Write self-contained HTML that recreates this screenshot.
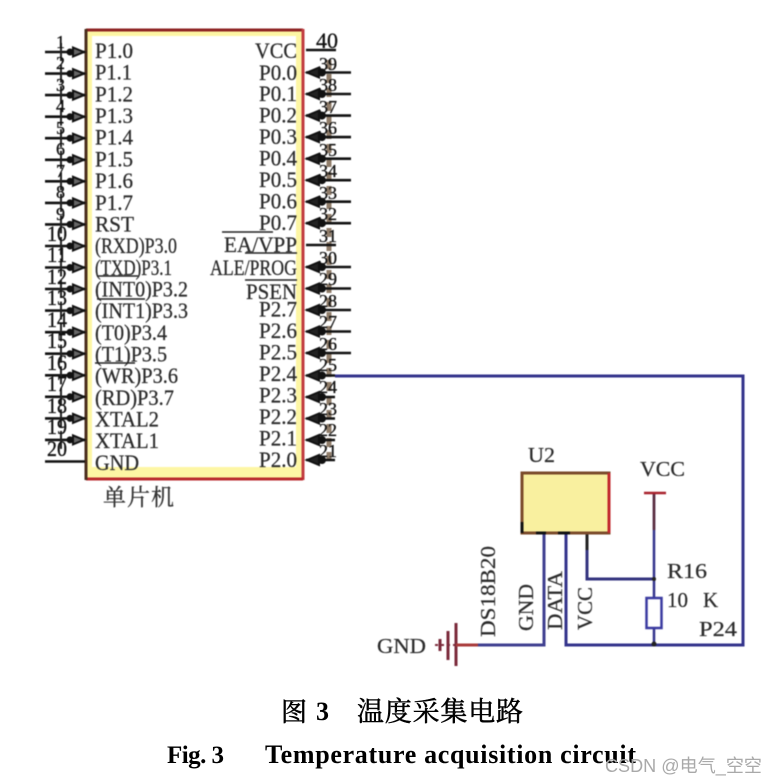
<!DOCTYPE html>
<html>
<head>
<meta charset="utf-8">
<style>
html,body{margin:0;padding:0;background:#fff;width:775px;height:784px;overflow:hidden}
svg{display:block}
.d{filter:blur(.5px)}
.l{font-family:"Liberation Serif",serif;font-size:22px;fill:#2a2a2a;stroke:#2a2a2a;stroke-width:.25px}
.n{font-family:"Liberation Serif",serif;font-size:18px;fill:#111;stroke:#111;stroke-width:.3px}
.c{font-family:"Liberation Serif",serif;font-size:21px;fill:#2a2a2a;stroke:#2a2a2a;stroke-width:.2px}
</style>
</head>
<body>
<svg width="775" height="784" viewBox="0 0 775 784" xmlns="http://www.w3.org/2000/svg">
<defs>
<g id="pl">
<path d="M45 0H85" stroke="#111" stroke-width="2.6" fill="none"/>
<path d="M84 0L73 -4.5V4.5Z" fill="#666" stroke="#111" stroke-width="2"/>
<circle cx="70" cy="0" r="3.5" fill="#111"/>
<path d="M61 -9V9" stroke="#222" stroke-width="2"/>
</g>
<g id="pr">
<path d="M306 0H351" stroke="#111" stroke-width="2.6" fill="none"/>
<path d="M307 0L319 -5V5Z" fill="#222" stroke="#111" stroke-width="2"/>
<circle cx="322" cy="0" r="4" fill="#111"/>
</g>
<g id="ps">
<path d="M306 0H335" stroke="#111" stroke-width="2.6" fill="none"/>
<path d="M307 0L319 -5V5Z" fill="#222" stroke="#111" stroke-width="2"/>
<circle cx="322" cy="0" r="4" fill="#111"/>
</g>
</defs>
<g class="d">
<!-- chip -->
<rect x="86" y="30" width="217" height="449" fill="#fdf6a4"/>
<rect x="92" y="36" width="204" height="431" fill="#fff"/>
<path d="M86 30H303" stroke="#8e2222" stroke-width="3" fill="none"/>
<path d="M303 29V480" stroke="#c23c40" stroke-width="3" fill="none"/>
<path d="M86 479H303" stroke="#b92a2c" stroke-width="3" fill="none"/>
<path d="M86 29V480" stroke="#4a2e1c" stroke-width="3" fill="none"/>

<!-- right brown number column -->
<path d="M329 60V465" stroke="#6b5238" stroke-width="5" stroke-dasharray="9 5" fill="none" opacity=".75"/>

<!-- left pins -->
<use href="#pl" y="52"/><use href="#pl" y="73.6"/><use href="#pl" y="95.1"/><use href="#pl" y="116.7"/>
<use href="#pl" y="138.2"/><use href="#pl" y="159.8"/><use href="#pl" y="181.3"/><use href="#pl" y="202.9"/>
<use href="#pl" y="224.4"/><use href="#pl" y="246"/><use href="#pl" y="267.5"/><use href="#pl" y="289"/>
<use href="#pl" y="310.6"/><use href="#pl" y="332.2"/><use href="#pl" y="353.7"/><use href="#pl" y="375.3"/>
<use href="#pl" y="396.8"/><use href="#pl" y="418.4"/><use href="#pl" y="439.9"/>
<path d="M45 461.5H85" stroke="#111" stroke-width="2.6"/>

<!-- left numbers -->
<g class="n">
<text x="56" y="48">1</text><text x="56" y="69">2</text><text x="56" y="91">3</text><text x="56" y="112">4</text>
<text x="56" y="134">5</text><text x="56" y="155">6</text><text x="56" y="177">7</text><text x="56" y="198">8</text>
<text x="56" y="220">9</text>
<g style="font-size:22px">
<text x="47" y="241" textLength="20" lengthAdjust="spacingAndGlyphs">10</text><text x="47" y="262" textLength="20" lengthAdjust="spacingAndGlyphs">11</text><text x="47" y="284" textLength="20" lengthAdjust="spacingAndGlyphs">12</text><text x="47" y="305" textLength="20" lengthAdjust="spacingAndGlyphs">13</text>
<text x="47" y="327" textLength="20" lengthAdjust="spacingAndGlyphs">14</text><text x="47" y="348" textLength="20" lengthAdjust="spacingAndGlyphs">15</text><text x="47" y="370" textLength="20" lengthAdjust="spacingAndGlyphs">16</text><text x="47" y="391" textLength="20" lengthAdjust="spacingAndGlyphs">17</text>
<text x="47" y="413" textLength="20" lengthAdjust="spacingAndGlyphs">18</text><text x="47" y="434" textLength="20" lengthAdjust="spacingAndGlyphs">19</text><text x="47" y="456" textLength="20" lengthAdjust="spacingAndGlyphs">20</text>
</g>
</g>

<!-- left labels -->
<g class="l">
<text x="95" y="58" textLength="38" lengthAdjust="spacingAndGlyphs">P1.0</text>
<text x="95" y="79.7" textLength="37" lengthAdjust="spacingAndGlyphs">P1.1</text>
<text x="95" y="101.4" textLength="38" lengthAdjust="spacingAndGlyphs">P1.2</text>
<text x="95" y="123" textLength="38" lengthAdjust="spacingAndGlyphs">P1.3</text>
<text x="95" y="144.7" textLength="38" lengthAdjust="spacingAndGlyphs">P1.4</text>
<text x="95" y="166.4" textLength="38" lengthAdjust="spacingAndGlyphs">P1.5</text>
<text x="95" y="188" textLength="38" lengthAdjust="spacingAndGlyphs">P1.6</text>
<text x="95" y="209.8" textLength="38" lengthAdjust="spacingAndGlyphs">P1.7</text>
<text x="95" y="231.4" textLength="39" lengthAdjust="spacingAndGlyphs">RST</text>
<text x="95" y="253" textLength="82" lengthAdjust="spacingAndGlyphs">(RXD)P3.0</text>
<text x="95" y="274.8" textLength="77" lengthAdjust="spacingAndGlyphs">(TXD)P3.1</text>
<text x="95" y="296.5" textLength="93" lengthAdjust="spacingAndGlyphs">(INT0)P3.2</text>
<text x="95" y="318" textLength="93" lengthAdjust="spacingAndGlyphs">(INT1)P3.3</text>
<text x="95" y="340" textLength="72" lengthAdjust="spacingAndGlyphs">(T0)P3.4</text>
<text x="95" y="361.5" textLength="72" lengthAdjust="spacingAndGlyphs">(T1)P3.5</text>
<text x="95" y="383" textLength="83" lengthAdjust="spacingAndGlyphs">(WR)P3.6</text>
<text x="95" y="405" textLength="79" lengthAdjust="spacingAndGlyphs">(RD)P3.7</text>
<text x="95" y="426.6" textLength="64" lengthAdjust="spacingAndGlyphs">XTAL2</text>
<text x="95" y="448" textLength="64" lengthAdjust="spacingAndGlyphs">XTAL1</text>
<text x="95" y="470" textLength="44" lengthAdjust="spacingAndGlyphs">GND</text>
</g>
<path d="M97 276H138M97 299H145M95 363H135" stroke="#222" stroke-width="1.6" fill="none"/>

<!-- right pins -->
<path d="M306 50H336" stroke="#111" stroke-width="2.6"/>
<use href="#pr" y="72.5"/><use href="#pr" y="94"/><use href="#pr" y="115.6"/><use href="#pr" y="137.1"/>
<use href="#pr" y="158.7"/><use href="#pr" y="180.2"/><use href="#pr" y="201.7"/><use href="#pr" y="223.2"/>
<path d="M306 245H336" stroke="#111" stroke-width="2.6"/>
<use href="#pr" y="267"/><use href="#pr" y="288.5"/><use href="#pr" y="310"/><use href="#pr" y="331.5"/><use href="#pr" y="353"/>
<use href="#ps" y="375.5"/><use href="#ps" y="397"/><use href="#ps" y="418.5"/><use href="#ps" y="440"/><use href="#ps" y="460"/>

<!-- right numbers -->
<g class="n" text-anchor="middle">
<text x="327" y="48" style="font-size:22px">40</text>
<text x="328" y="70">39</text><text x="328" y="91">38</text><text x="328" y="113">37</text><text x="328" y="134">36</text>
<text x="328" y="156">35</text><text x="328" y="177">34</text><text x="328" y="199">33</text><text x="328" y="220">32</text>
<text x="328" y="242">31</text><text x="328" y="264">30</text><text x="328" y="285">29</text><text x="328" y="307">28</text>
<text x="328" y="328">27</text><text x="328" y="350">26</text><text x="328" y="371">25</text><text x="328" y="393">24</text>
<text x="328" y="415">23</text><text x="328" y="436">22</text><text x="328" y="457">21</text>
</g>

<!-- right labels -->
<g class="l" text-anchor="end">
<text x="297" y="58" textLength="42" lengthAdjust="spacingAndGlyphs">VCC</text>
<text x="297" y="80" textLength="38" lengthAdjust="spacingAndGlyphs">P0.0</text>
<text x="297" y="101.1" textLength="38" lengthAdjust="spacingAndGlyphs">P0.1</text>
<text x="297" y="122.6" textLength="38" lengthAdjust="spacingAndGlyphs">P0.2</text>
<text x="297" y="144.1" textLength="38" lengthAdjust="spacingAndGlyphs">P0.3</text>
<text x="297" y="165.7" textLength="38" lengthAdjust="spacingAndGlyphs">P0.4</text>
<text x="297" y="187.2" textLength="38" lengthAdjust="spacingAndGlyphs">P0.5</text>
<text x="297" y="208.7" textLength="38" lengthAdjust="spacingAndGlyphs">P0.6</text>
<text x="297" y="230.2" textLength="38" lengthAdjust="spacingAndGlyphs">P0.7</text>
<text x="297" y="251.8" textLength="73" lengthAdjust="spacingAndGlyphs">EA/VPP</text>
<text x="297" y="275" textLength="87" lengthAdjust="spacingAndGlyphs">ALE/PROG</text>
<text x="297" y="299" textLength="51" lengthAdjust="spacingAndGlyphs">PSEN</text>
<text x="297" y="316.4" textLength="38" lengthAdjust="spacingAndGlyphs">P2.7</text>
<text x="297" y="337.9" textLength="38" lengthAdjust="spacingAndGlyphs">P2.6</text>
<text x="297" y="359.5" textLength="38" lengthAdjust="spacingAndGlyphs">P2.5</text>
<text x="297" y="381" textLength="38" lengthAdjust="spacingAndGlyphs">P2.4</text>
<text x="297" y="402.5" textLength="38" lengthAdjust="spacingAndGlyphs">P2.3</text>
<text x="297" y="424" textLength="38" lengthAdjust="spacingAndGlyphs">P2.2</text>
<text x="297" y="445.5" textLength="38" lengthAdjust="spacingAndGlyphs">P2.1</text>
<text x="297" y="467" textLength="38" lengthAdjust="spacingAndGlyphs">P2.0</text>
</g>
<path d="M222 232H273M245 253H297M245 280H297" stroke="#222" stroke-width="1.6" fill="none"/>

<text x="103" y="505" style="font-family:'Noto Serif CJK SC','Noto Sans CJK SC',serif;font-size:23px;fill:#333;stroke:#333;stroke-width:.3px;letter-spacing:1px">单片机</text>

<!-- wires -->
<path d="M335 376H743V645H566V533" stroke="#33338c" stroke-width="3" fill="none"/>
<path d="M458 645H544V533" stroke="#3f3f90" stroke-width="3" fill="none"/>
<path d="M587 533V579H654" stroke="#33337f" stroke-width="3" fill="none"/>
<path d="M587 533V550" stroke="#222" stroke-width="3" fill="none"/>
<path d="M654 493V598M654 628V645" stroke="#33338c" stroke-width="2.5" fill="none"/>
<path d="M654 493V530" stroke="#5a2a3a" stroke-width="2.5" fill="none"/>
<path d="M644 493H666" stroke="#a8202c" stroke-width="2.5" fill="none"/>
<rect x="646.5" y="598" width="15" height="30" fill="#fff" stroke="#3a3aa0" stroke-width="2.5"/>
<circle cx="654" cy="579" r="2" fill="#222"/>
<circle cx="654" cy="644" r="2.5" fill="#222"/>

<!-- ground -->
<path d="M456 623V666M448 631V660M440 639V651" stroke="#7a2a3a" stroke-width="3" fill="none"/>
<path d="M435 645H458" stroke="#7a2a3a" stroke-width="2" stroke-dasharray="3 3" fill="none"/>
<path d="M456 645H478" stroke="#a83a3a" stroke-width="3" fill="none"/>

<!-- U2 -->
<rect x="522" y="473" width="87" height="60" fill="#f9f09f" stroke="#7a4a2a" stroke-width="3"/>
<path d="M609 473V533" stroke="#c2282c" stroke-width="3" fill="none"/>
<path d="M522 522V533M536 533H546M558 533H570" stroke="#111" stroke-width="3" fill="none"/>

<!-- labels -->
<g class="c">
<text x="528" y="462" textLength="27" lengthAdjust="spacingAndGlyphs">U2</text>
<text x="640" y="476" textLength="45" lengthAdjust="spacingAndGlyphs">VCC</text>
<text x="667" y="578" textLength="40" lengthAdjust="spacingAndGlyphs">R16</text>
<text x="667" y="607">10</text><text x="703" y="607">K</text>
<text x="699" y="636" textLength="38" lengthAdjust="spacingAndGlyphs">P24</text>
<text x="377" y="653" textLength="49" lengthAdjust="spacingAndGlyphs">GND</text>
<text transform="translate(495,637) rotate(-90)" textLength="91" lengthAdjust="spacingAndGlyphs">DS18B20</text>
<text transform="translate(533,631) rotate(-90)" textLength="47" lengthAdjust="spacingAndGlyphs">GND</text>
<text transform="translate(562,630) rotate(-90)" textLength="59" lengthAdjust="spacingAndGlyphs">DATA</text>
<text transform="translate(592,630) rotate(-90)" textLength="43" lengthAdjust="spacingAndGlyphs">VCC</text>
</g>
</g>

<!-- captions -->
<text x="281" y="721" style="font-family:'Noto Serif CJK SC',serif;font-size:26px;fill:#000;stroke:#000;stroke-width:.5px">图</text>
<text x="316" y="720" style="font-family:'Liberation Serif',serif;font-weight:bold;font-size:26px;fill:#000">3</text>
<text x="357" y="721" style="font-family:'Noto Serif CJK SC',serif;font-size:27px;fill:#000;stroke:#000;stroke-width:.5px;letter-spacing:.8px">温度采集电路</text>
<text x="167" y="763" textLength="57" style="font-family:'Liberation Serif',serif;font-weight:bold;font-size:25px;fill:#000">Fig. 3</text>
<text x="265" y="763" textLength="371" style="font-family:'Liberation Serif',serif;font-weight:bold;font-size:26px;fill:#000">Temperature acquisition circuit</text>
<text x="605" y="772" textLength="157" lengthAdjust="spacingAndGlyphs" style="font-family:'Liberation Sans','Noto Sans CJK SC',sans-serif;font-size:18px;fill:#a9a9a9">CSDN @电气_空空</text>
</svg>
</body>
</html>
